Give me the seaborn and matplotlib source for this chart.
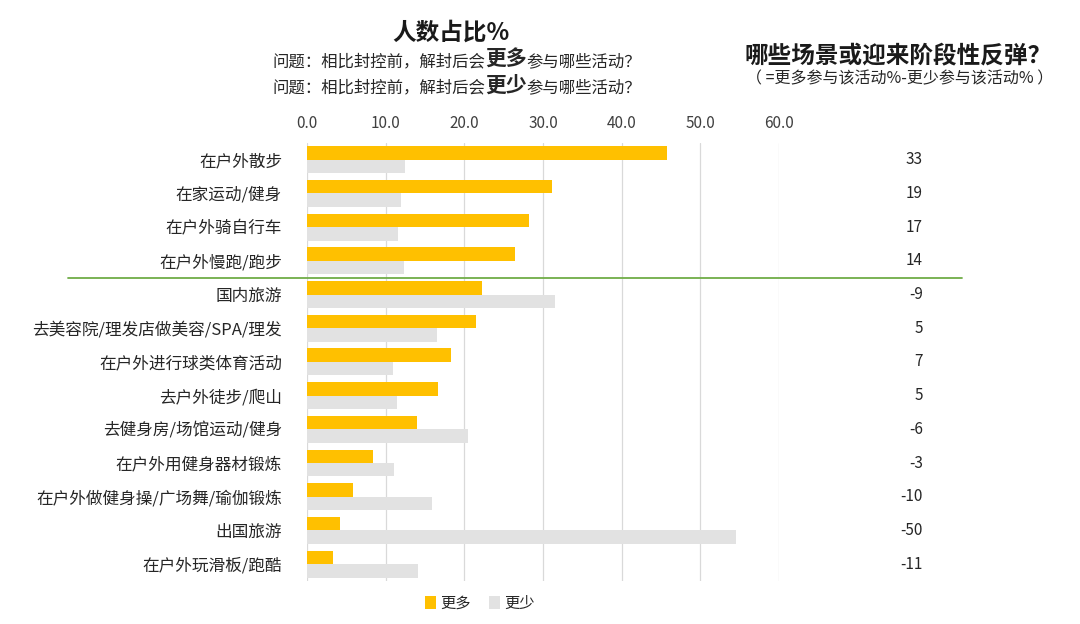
import pandas as pd
import seaborn as sns
import matplotlib.pyplot as plt
from matplotlib.patches import Patch
from matplotlib.transforms import blended_transform_factory

activities = ['在户外散步', '在家运动/健身', '在户外骑自行车', '在户外慢跑/跑步', '国内旅游',
              '去美容院/理发店做美容/SPA/理发', '在户外进行球类体育活动', '去户外徒步/爬山',
              '去健身房/场馆运动/健身', '在户外用健身器材锻炼', '在户外做健身操/广场舞/瑜伽锻炼',
              '出国旅游', '在户外玩滑板/跑酷']
more = [45.7, 31.1, 28.2, 26.4, 22.3, 21.5, 18.3, 16.7, 14.0, 8.4, 5.9, 4.2, 3.3]
less = [12.5, 12.0, 11.6, 12.3, 31.5, 16.5, 10.9, 11.4, 20.4, 11.1, 15.9, 54.5, 14.1]
net = [33, 19, 17, 14, -9, 5, 7, 5, -6, -3, -10, -50, -11]
series = ['更多', '更少']
colors = ['#FFC000', '#E2E2E2']

df = pd.DataFrame({'activity': activities * 2,
                   'value': more + less,
                   'group': [series[0]] * len(more) + [series[1]] * len(less)})

sns.set_style('white')
plt.rcParams['font.family'] = ['Noto Sans CJK SC', 'DejaVu Sans']

fig = plt.figure(figsize=(10.8, 6.24), dpi=100)
ax = fig.add_axes([0.2843, 0.069, 0.437, 0.702])
sns.barplot(data=df, y='activity', x='value', hue='group', palette=colors,
            order=activities, hue_order=series, width=0.8, saturation=1,
            linewidth=0, ax=ax, legend=False)

ax.set_xlim(0, 60)
ax.set_ylim(len(activities) - 0.5, -0.5)
ax.set_xticks(range(0, 61, 10))
ax.set_xticklabels([f'{v:.1f}' for v in range(0, 61, 10)])
ax.xaxis.tick_top()
ax.tick_params(axis='x', length=0, labelsize=11, colors='#404040', pad=8)
ax.tick_params(axis='y', length=0, labelsize=12, colors='#262626', pad=18)
ax.set_xlabel('')
ax.set_ylabel('')
ax.grid(axis='x', color='#D9D9D9', linewidth=0.9)
ax.set_axisbelow(True)
for s in ax.spines.values():
    s.set_visible(False)

# green separator line between row 4 and row 5
tr = blended_transform_factory(fig.transFigure, ax.transData)
ax.plot([68 / 1080, 962 / 1080], [3.5, 3.5], color='#70AD47', lw=1.3,
        transform=tr, clip_on=False)

# net change column
for i, v in enumerate(net):
    ax.text(923 / 1080, i, str(v), transform=tr, ha='right', va='center',
            fontsize=11, color='#262626')

# titles
fig.text(451 / 1080, 1 - 33 / 624, '人数占比%', ha='center', va='center',
         fontsize=17, fontweight='bold', color='#1a1a1a')

renderer = fig.canvas.get_renderer()


def rich_line(x, y, parts):
    for txt, size, weight in parts:
        t = fig.text(x, y, txt, ha='left', va='baseline', fontsize=size,
                     fontweight=weight, color='#262626')
        bb = t.get_window_extent(renderer)
        x += bb.width / fig.bbox.width


rich_line(272 / 1080, 1 - 66 / 624, [('问题：相比封控前，解封后会', 11.8, 'normal'),
                                     ('更多', 15, 'bold'), ('参与哪些活动？', 11.8, 'normal')])
rich_line(272 / 1080, 1 - 92 / 624, [('问题：相比封控前，解封后会', 11.8, 'normal'),
                                     ('更少', 15, 'bold'), ('参与哪些活动？', 11.8, 'normal')])

fig.text(898 / 1080, 1 - 55 / 624, '哪些场景或迎来阶段性反弹？', ha='center', va='center',
         fontsize=17, fontweight='bold', color='#1a1a1a')
fig.text(900 / 1080, 1 - 79 / 624, '（ =更多参与该活动%-更少参与该活动% ）', ha='center',
         va='center', fontsize=11.5, color='#262626')

handles = [Patch(facecolor=c, edgecolor='none') for c in colors]
fig.legend(handles, series, loc='center', bbox_to_anchor=(480 / 1080, 1 - 603 / 624),
           ncol=2, frameon=False, fontsize=11, handlelength=0.7, handleheight=0.9,
           handletextpad=0.3, columnspacing=1.2)

fig.savefig('out.png', dpi=100)
